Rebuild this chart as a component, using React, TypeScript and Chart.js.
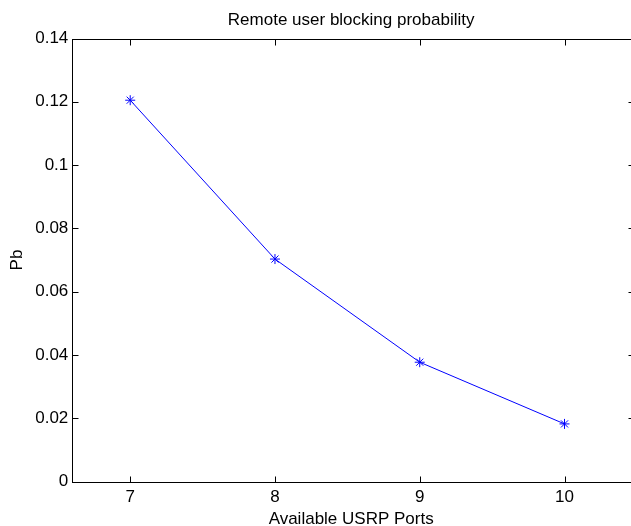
import React, { useEffect, useRef } from "react";
import { Chart, registerables } from "chart.js";

Chart.register(...registerables);

const ports = [7, 8, 9, 10];
const blocking = [0.1205, 0.0703, 0.0377, 0.0182];
const xTickValues = [7, 8, 9, 10];
const xRange = [6.6, 10.48];
const yRange = [0, 0.14];
const yTickStep = 0.02;
const titleText = "Remote user blocking probability";
const xLabelText = "Available USRP Ports";
const yLabelText = "Pb";

const FONT = '"Liberation Sans", Arial, Helvetica, sans-serif';

const framePlugin = {
  id: "matlabFrame",
  afterDraw(chart: any) {
    const { ctx, chartArea: a, scales } = chart;
    const L = Math.round(a.left) + 0.5;
    const R = Math.round(a.right) + 0.5;
    const T = Math.round(a.top) + 0.5;
    const B = Math.round(a.bottom) + 0.5;
    ctx.save();
    ctx.strokeStyle = "#000";
    ctx.lineWidth = 1;
    ctx.strokeRect(L, T, R - L, B - T);
    const tl = 6;
    const line = (x1: number, y1: number, x2: number, y2: number) => {
      ctx.beginPath();
      ctx.moveTo(x1, y1);
      ctx.lineTo(x2, y2);
      ctx.stroke();
    };
    scales.x.ticks.forEach((t: any) => {
      const x = Math.round(scales.x.getPixelForValue(t.value)) + 0.5;
      line(x, B, x, B - tl);
      line(x, T, x, T + tl);
    });
    scales.y.ticks.forEach((t: any) => {
      const y = Math.round(scales.y.getPixelForValue(t.value)) + 0.5;
      line(L, y, L + tl, y);
      line(R, y, R - tl, y);
    });
    ctx.fillStyle = "#000";
    ctx.font = `17px ${FONT}`;
    ctx.textAlign = "center";
    ctx.textBaseline = "alphabetic";
    const cx = (a.left + a.right) / 2 - 2;
    ctx.fillText(titleText, cx, 25);
    ctx.fillText(xLabelText, cx, 524);
    ctx.translate(22, (a.top + a.bottom) / 2);
    ctx.rotate(-Math.PI / 2);
    ctx.fillText(yLabelText, 0, 0);
    ctx.restore();
  },
};

export default function App() {
  const ref = useRef<HTMLCanvasElement | null>(null);

  useEffect(() => {
    if (!ref.current) return;
    const chart = new Chart(ref.current, {
      type: "line",
      data: {
        datasets: [
          {
            data: ports.map((p, i) => ({ x: p, y: blocking[i] })),
            borderColor: "#0000ff",
            borderWidth: 1,
            pointStyle: "star",
            pointRadius: 5,
            pointBorderColor: "#0000ff",
            pointBackgroundColor: "#0000ff",
            pointBorderWidth: 1,
            tension: 0,
            fill: false,
          },
        ],
      },
      options: {
        animation: false,
        responsive: false,
        events: [],
        layout: { padding: { top: 38.5, right: 5.5, left: 0, bottom: 0 } },
        plugins: {
          legend: { display: false },
          tooltip: { enabled: false },
          title: { display: false },
        },
        scales: {
          x: {
            type: "linear",
            min: xRange[0],
            max: xRange[1],
            grid: { display: false, drawTicks: false },
            border: { display: false },
            afterBuildTicks: (scale: any) => {
              scale.ticks = xTickValues.map((v) => ({ value: v }));
            },
            afterFit: (scale: any) => {
              scale.height = 44.5;
            },
            ticks: {
              padding: 6,
              color: "#000",
              font: { family: FONT, size: 17 },
              maxRotation: 0,
              autoSkip: false,
              callback: (v: any) => String(v),
            },
          },
          y: {
            type: "linear",
            min: yRange[0],
            max: yRange[1],
            grid: { display: false, drawTicks: false },
            border: { display: false },
            afterFit: (scale: any) => {
              scale.width = 72.3;
            },
            ticks: {
              stepSize: yTickStep,
              padding: 4,
              color: "#000",
              font: { family: FONT, size: 17 },
              callback: (v: any) => String(Number(Number(v).toFixed(2))),
            },
          },
        },
      },
      plugins: [framePlugin],
    });
    return () => chart.destroy();
  }, []);

  return (
    <div
      style={{
        position: "absolute",
        left: 0,
        top: 0,
        width: 631,
        height: 526,
        overflow: "hidden",
        background: "#fff",
      }}
    >
      <canvas ref={ref} width={640} height={526} style={{ width: 640, height: 526, display: "block" }} />
    </div>
  );
}
